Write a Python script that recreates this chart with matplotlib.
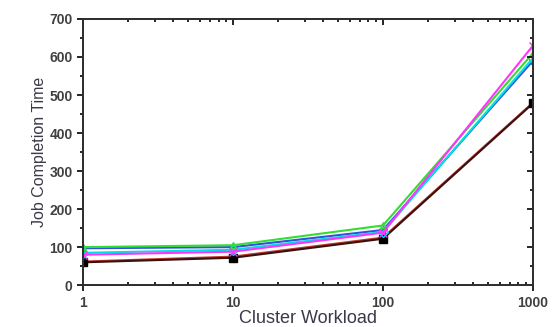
import numpy as np
import matplotlib.pyplot as plt
from matplotlib.ticker import MultipleLocator, LogLocator, NullFormatter, FixedFormatter, FixedLocator

plt.rcParams['font.family'] = ['Liberation Sans', 'DejaVu Sans']

# data
workload = [1, 10, 100, 1000]
green = [100, 105, 157, 610]
blue = [97, 100, 145, 590]
cyan = [85, 93, 140, 597]
magenta = [80, 88, 138, 630]
red = [62, 75, 125, 480]
black = [60, 72, 122, 478]

series = [
    (red, '#c0392b', None),
    (black, '#3a1010', 's'),
    (blue, '#3050e0', '*'),
    (cyan, '#00e0e0', 'D'),
    (green, '#33dd33', '^'),
    (magenta, '#ff33ff', 'x'),
]

fig = plt.figure(figsize=(5.54, 3.27), dpi=100)
ax = fig.add_axes([0.150, 0.128, 0.812, 0.814])

for vals, col, mk in series:
    if mk in ('^', 'D'):
        ax.plot(workload, vals, color=col, lw=1.5, marker=mk, ms=5, mfc='none', mec=col)
    elif mk is None:
        ax.plot(workload, vals, color=col, lw=1.5)
    elif mk == 's':
        ax.plot(workload, vals, color=col, lw=1.5, marker=mk, ms=6, mfc='black', mec='black')
    else:
        ax.plot(workload, vals, color=col, lw=1.5, marker=mk, ms=6, mfc=col, mec=col)

ax.set_xscale('log')
ax.set_xlim(1, 1000)
ax.set_ylim(0, 700)
ax.xaxis.set_major_locator(FixedLocator([1, 10, 100, 1000]))
ax.xaxis.set_major_formatter(FixedFormatter(['1', '10', '100', '1000']))
ax.xaxis.set_minor_locator(LogLocator(base=10, subs=np.arange(2, 10)))
ax.xaxis.set_minor_formatter(NullFormatter())
ax.yaxis.set_major_locator(MultipleLocator(100))
ax.yaxis.set_minor_locator(MultipleLocator(50))

ax.tick_params(axis='y', which='both', direction='out', left=True, right=False,
               labelsize=10, labelcolor='#404040', width=1.2)
ax.tick_params(axis='y', which='major', length=4)
ax.tick_params(axis='y', which='minor', length=2.5)
ax.tick_params(axis='x', which='major', direction='out', top=False, bottom=True, length=4,
               labelsize=10, labelcolor='#404040', width=1.2)
ax.tick_params(axis='x', which='minor', direction='in', top=False, bottom=True, length=2.5, width=1.2)
for lbl in ax.get_xticklabels() + ax.get_yticklabels():
    lbl.set_fontweight('bold')

# inward ticks on the top and right spines
ax2 = ax.twinx()
ax2.set_ylim(0, 700)
ax2.yaxis.set_major_locator(MultipleLocator(100))
ax2.yaxis.set_minor_locator(MultipleLocator(50))
ax2.tick_params(axis='y', which='both', direction='in', labelright=False, width=1.2)
ax2.tick_params(axis='y', which='major', length=4)
ax2.tick_params(axis='y', which='minor', length=2.5)
ax3 = ax.twiny()
ax3.set_xscale('log')
ax3.set_xlim(1, 1000)
ax3.xaxis.set_major_locator(FixedLocator([1, 10, 100, 1000]))
ax3.xaxis.set_minor_locator(LogLocator(base=10, subs=np.arange(2, 10)))
ax3.xaxis.set_minor_formatter(NullFormatter())
ax3.tick_params(axis='x', which='both', direction='in', labeltop=False, width=1.2)
ax3.tick_params(axis='x', which='major', length=4)
ax3.tick_params(axis='x', which='minor', length=2.5)

for a in (ax, ax2, ax3):
    for s in a.spines.values():
        s.set_linewidth(1.4)
        s.set_color('#303030')

ax.set_xlabel('Cluster Workload', fontsize=13, color='#3a3a48', labelpad=0)
ax.set_ylabel('Job Completion Time', fontsize=11.5, color='#3a3a48', labelpad=2)

fig.savefig('out.png', dpi=100)
